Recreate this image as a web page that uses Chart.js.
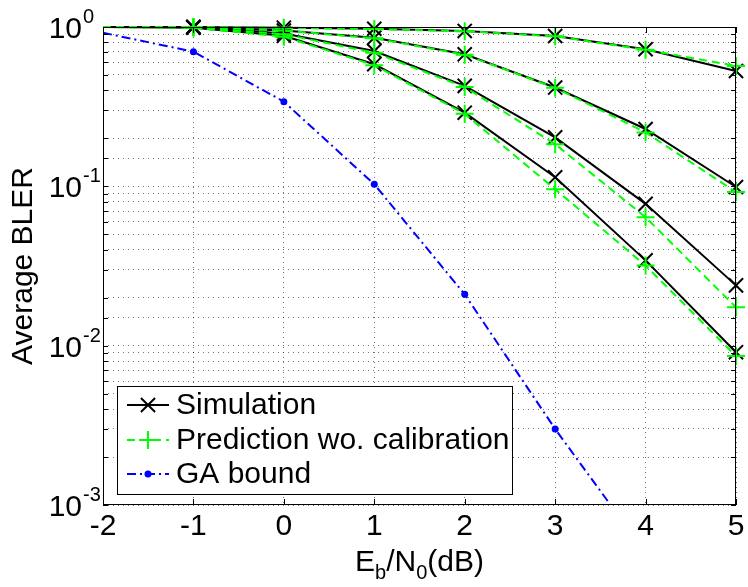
<!DOCTYPE html>
<html>
<head>
<meta charset="utf-8">
<script src="https://cdn.jsdelivr.net/npm/chart.js@4.4.0/dist/chart.umd.min.js"></script>
<style>
  html, body { margin: 0; padding: 0; background: #fff; }
</style>
</head>
<body>
<canvas id="graficoBler" width="748" height="587"></canvas>
<script>
// Eb/N0 (dB)
const ebn0 = [-2, -1, 0, 1, 2, 3, 4, 5];

// simulation curves (black x)
const simA = [1, 1, 0.99, 0.975, 0.944, 0.878, 0.725, 0.53];
const simB = [1, 1, 0.95, 0.857, 0.674, 0.417, 0.229, 0.099];
const simC = [1, 1, 0.91, 0.707, 0.427, 0.203, 0.0776, 0.0239];
const simD = [1, 0.99, 0.88, 0.584, 0.29, 0.114, 0.0343, 0.0091];

// prediction wo. calibration (green +)
const predA = [1, 1, 0.99, 0.97, 0.94, 0.875, 0.72, 0.57];
const predB = [1, 1, 0.95, 0.85, 0.67, 0.415, 0.218, 0.092];
const predC = [1, 1, 0.9, 0.69, 0.42, 0.184, 0.064, 0.0174];
const predD = [1, 0.99, 0.87, 0.575, 0.285, 0.096, 0.0318, 0.0086];

// GA bound (blue)
const gaBound = [0.92, 0.70, 0.34, 0.103, 0.021, 0.003, 0.0005, 0.00008];

const xTickLabels = ['-2', '-1', '0', '1', '2', '3', '4', '5'];
const yTickValues = [1, 0.1, 0.01, 0.001];
const yTickExps = ['0', '-1', '-2', '-3'];
const legendLabels = ['Simulation', 'Prediction wo. calibration', 'GA bound'];

const FONT = '"Liberation Sans", Arial, sans-serif';

function pts(arr) {
  return ebn0.map((x, i) => ({ x: x, y: arr[i] }));
}

function simSet(arr, first) {
  return {
    label: first ? legendLabels[0] : '',
    data: pts(arr),
    borderColor: '#000',
    borderWidth: 2,
    pointStyle: 'crossRot',
    pointRadius: ctx => ctx.dataIndex === 0 ? 0 : 10,
    pointBorderColor: '#000',
    pointBorderWidth: 2,
    pointBackgroundColor: 'transparent',
    tension: 0,
    clip: false,
    order: 1
  };
}

function predSet(arr, first) {
  return {
    label: first ? legendLabels[1] : '',
    data: pts(arr),
    borderColor: '#00ff00',
    borderWidth: 2,
    borderDash: [8, 5],
    pointStyle: 'cross',
    pointRadius: ctx => ctx.dataIndex === 0 ? 0 : 9,
    pointBorderColor: '#00ff00',
    pointBorderWidth: 2,
    pointBackgroundColor: 'transparent',
    tension: 0,
    clip: false,
    order: 0
  };
}

const datasets = [
  simSet(simA, true), simSet(simB), simSet(simC), simSet(simD),
  predSet(predA, true), predSet(predB), predSet(predC), predSet(predD),
  {
    label: legendLabels[2],
    data: pts(gaBound),
    borderColor: '#0000ff',
    borderWidth: 2,
    borderDash: [9, 4, 2, 4],
    pointStyle: 'circle',
    pointRadius: ctx => ctx.dataIndex === 0 ? 0 : 3.5,
    pointBackgroundColor: '#0000ff',
    pointBorderColor: '#0000ff',
    pointBorderWidth: 0,
    tension: 0,
    order: 2
  }
];

function drawMarker(ctx, style, cx, cy, r, color) {
  ctx.save();
  ctx.strokeStyle = color;
  ctx.fillStyle = color;
  ctx.lineWidth = 2;
  ctx.setLineDash([]);
  ctx.beginPath();
  if (style === 'x') {
    const d = r * Math.SQRT1_2;
    ctx.moveTo(cx - d, cy - d); ctx.lineTo(cx + d, cy + d);
    ctx.moveTo(cx + d, cy - d); ctx.lineTo(cx - d, cy + d);
    ctx.stroke();
  } else if (style === '+') {
    ctx.moveTo(cx - r, cy); ctx.lineTo(cx + r, cy);
    ctx.moveTo(cx, cy - r); ctx.lineTo(cx, cy + r);
    ctx.stroke();
  } else {
    ctx.arc(cx, cy, r, 0, Math.PI * 2);
    ctx.fill();
  }
  ctx.restore();
}

const matlabLook = {
  id: 'matlabLook',
  afterDatasetsDraw(chart) {
    const { ctx, chartArea: a, scales: { x, y } } = chart;
    ctx.save();
    ctx.strokeStyle = '#000';
    ctx.lineWidth = 1;
    ctx.setLineDash([]);

    // inward ticks
    ctx.beginPath();
    ebn0.forEach(v => {
      const px = Math.round(x.getPixelForValue(v)) + 0.5;
      ctx.moveTo(px, a.bottom); ctx.lineTo(px, a.bottom - 6);
      ctx.moveTo(px, a.top); ctx.lineTo(px, a.top + 6);
    });
    y.ticks.forEach(t => {
      const py = Math.round(y.getPixelForValue(t.value)) + 0.5;
      ctx.moveTo(a.left, py); ctx.lineTo(a.left + 5, py);
      ctx.moveTo(a.right, py); ctx.lineTo(a.right - 5, py);
    });
    ctx.stroke();

    // box
    ctx.strokeRect(Math.round(a.left) + 0.5, Math.round(a.top) + 0.5,
      Math.round(a.width) - 1, Math.round(a.height) - 1);

    ctx.fillStyle = '#000';

    // x tick labels
    ctx.font = '30px ' + FONT;
    ctx.textAlign = 'center';
    ctx.textBaseline = 'alphabetic';
    ebn0.forEach((v, i) => {
      ctx.fillText(xTickLabels[i], x.getPixelForValue(v), a.bottom + 30);
    });

    // y tick labels 10^n
    yTickValues.forEach((v, i) => {
      const py = y.getPixelForValue(v);
      ctx.font = '30px ' + FONT;
      ctx.textAlign = 'right';
      ctx.fillText('10', 82, py + 11);
      ctx.font = '20px ' + FONT;
      ctx.textAlign = 'left';
      ctx.fillText(yTickExps[i], 83, py - 4);
    });

    // y title
    ctx.save();
    ctx.translate(24, (a.top + a.bottom) / 2);
    ctx.rotate(-Math.PI / 2);
    ctx.font = '30px ' + FONT;
    ctx.textAlign = 'center';
    ctx.textBaseline = 'middle';
    ctx.fillText('Average BLER', 0, 0);
    ctx.restore();

    // x title E_b/N_0(dB)
    const parts = [['E', 0], ['b', 1], ['/N', 0], ['0', 1], ['(dB)', 0]];
    let total = 0;
    parts.forEach(p => {
      ctx.font = (p[1] ? '20px ' : '30px ') + FONT;
      total += ctx.measureText(p[0]).width;
    });
    let cx = (a.left + a.right) / 2 - total / 2;
    ctx.textAlign = 'left';
    parts.forEach(p => {
      ctx.font = (p[1] ? '20px ' : '30px ') + FONT;
      ctx.fillText(p[0], cx, p[1] ? 579 : 571);
      cx += ctx.measureText(p[0]).width;
    });

    // legend box
    const lx = 117, ly = 386, lw = 396, lh = 109;
    ctx.fillStyle = '#fff';
    ctx.fillRect(lx, ly, lw, lh);
    ctx.strokeStyle = '#000';
    ctx.strokeRect(lx + 0.5, ly + 0.5, lw - 1, lh - 1);

    const rows = [405, 440, 474];
    const styles = [
      { color: '#000', dash: [], marker: 'x', r: 10 },
      { color: '#00ff00', dash: [8, 5], marker: '+', r: 9 },
      { color: '#0000ff', dash: [9, 4, 2, 4], marker: 'o', r: 3.5 }
    ];
    rows.forEach((ry, i) => {
      const s = styles[i];
      ctx.save();
      ctx.strokeStyle = s.color;
      ctx.lineWidth = 2;
      ctx.setLineDash(s.dash);
      ctx.beginPath();
      ctx.moveTo(127, ry); ctx.lineTo(169, ry);
      ctx.stroke();
      ctx.restore();
      drawMarker(ctx, s.marker, 148, ry, s.r, s.color);
      ctx.fillStyle = '#000';
      ctx.font = '30px ' + FONT;
      ctx.textAlign = 'left';
      ctx.textBaseline = 'middle';
      ctx.fillText(legendLabels[i], 176, ry + 1);
    });

    ctx.restore();
  }
};

const ctx = document.getElementById('graficoBler').getContext('2d');
new Chart(ctx, {
  type: 'line',
  data: { datasets: datasets },
  options: {
    responsive: false,
    animation: false,
    layout: { padding: { left: 103, right: 7, top: 27, bottom: 82 } },
    plugins: {
      legend: { display: false },
      tooltip: { enabled: false }
    },
    scales: {
      x: {
        type: 'linear',
        min: -2,
        max: 5,
        ticks: { display: false, stepSize: 1 },
        grid: { color: 'rgba(0,0,0,0.55)', drawTicks: false, lineWidth: 1 },
        border: { display: false, dash: [1, 4] }
      },
      y: {
        type: 'logarithmic',
        min: 0.001,
        max: 1,
        ticks: { display: false },
        grid: { color: 'rgba(0,0,0,0.55)', drawTicks: false, lineWidth: 1 },
        border: { display: false, dash: [1, 4] }
      }
    }
  },
  plugins: [matlabLook]
});
</script>
</body>
</html>
